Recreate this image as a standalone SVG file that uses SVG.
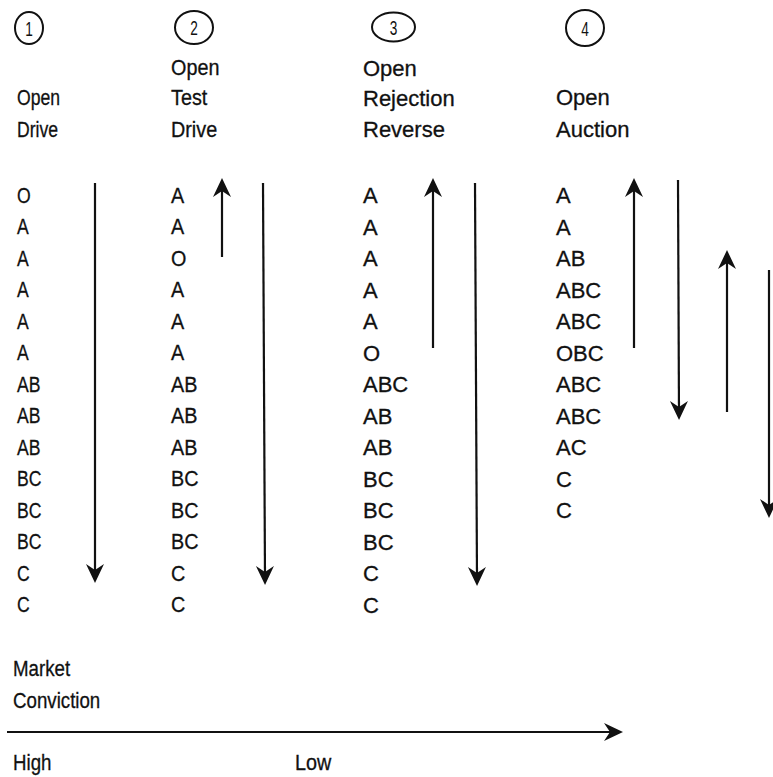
<svg xmlns="http://www.w3.org/2000/svg" width="773" height="777" viewBox="0 0 773 777">
  <style>
    .t { font-family: "Liberation Sans", Arial, sans-serif; font-size: 22px; fill: #111; stroke: #111; stroke-width: 0.3; }
    .num { font-family: "Liberation Sans", Arial, sans-serif; font-size: 21px; fill: #111; text-anchor: middle; }
    .ring { fill: none; stroke: #111; stroke-width: 2; }
    .arr { fill: none; stroke: #111; stroke-width: 2.2; marker-end: url(#head); }
  </style>
  <defs>
    <marker id="head" markerUnits="userSpaceOnUse" markerWidth="20" markerHeight="20" refX="-6" refY="0" orient="auto" overflow="visible">
      <path d="M -19,-9 L 0,0 L -19,9 L -13,0 Z" fill="#111"/>
    </marker>
  </defs>

  <!-- Column 1: Open Drive -->
  <g id="col1">
    <ellipse class="ring" cx="29" cy="28" rx="14" ry="16"/>
    <text class="num" transform="translate(29 36) scale(0.65 1)">1</text>
    <g transform="translate(17 0) scale(0.8 1)">
      <text class="t" x="0" y="105">Open</text>
      <text class="t" x="0" y="137">Drive</text>
      <text class="t">
        <tspan x="0" y="203">O</tspan>
        <tspan x="0" y="234.5">A</tspan>
        <tspan x="0" y="266">A</tspan>
        <tspan x="0" y="297.5">A</tspan>
        <tspan x="0" y="329">A</tspan>
        <tspan x="0" y="360.5">A</tspan>
        <tspan x="0" y="392">AB</tspan>
        <tspan x="0" y="423.5">AB</tspan>
        <tspan x="0" y="455">AB</tspan>
        <tspan x="0" y="486.5">BC</tspan>
        <tspan x="0" y="518">BC</tspan>
        <tspan x="0" y="549.5">BC</tspan>
        <tspan x="0" y="581">C</tspan>
        <tspan x="0" y="612.5">C</tspan>
      </text>
    </g>
  </g>

  <!-- Column 2: Open Test Drive -->
  <g id="col2">
    <ellipse class="ring" cx="194" cy="27.5" rx="19" ry="16.5"/>
    <text class="num" transform="translate(194 35) scale(0.65 1)">2</text>
    <g transform="translate(171 0) scale(0.9 1)">
      <text class="t" x="0" y="75">Open</text>
      <text class="t" x="0" y="105">Test</text>
      <text class="t" x="0" y="137">Drive</text>
      <text class="t">
        <tspan x="0" y="203">A</tspan>
        <tspan x="0" y="234.5">A</tspan>
        <tspan x="0" y="266">O</tspan>
        <tspan x="0" y="297.5">A</tspan>
        <tspan x="0" y="329">A</tspan>
        <tspan x="0" y="360.5">A</tspan>
        <tspan x="0" y="392">AB</tspan>
        <tspan x="0" y="423.5">AB</tspan>
        <tspan x="0" y="455">AB</tspan>
        <tspan x="0" y="486.5">BC</tspan>
        <tspan x="0" y="518">BC</tspan>
        <tspan x="0" y="549.5">BC</tspan>
        <tspan x="0" y="581">C</tspan>
        <tspan x="0" y="612.5">C</tspan>
      </text>
    </g>
  </g>

  <!-- Column 3: Open Rejection Reverse -->
  <g id="col3">
    <ellipse class="ring" cx="393.5" cy="27" rx="21.5" ry="14.5"/>
    <text class="num" transform="translate(393.5 34.5) scale(0.65 1)">3</text>
    <text class="t" x="363" y="76">Open</text>
    <text class="t" x="363" y="106">Rejection</text>
    <text class="t" x="363" y="137">Reverse</text>
    <text class="t">
      <tspan x="363" y="203">A</tspan>
      <tspan x="363" y="234.5">A</tspan>
      <tspan x="363" y="266">A</tspan>
      <tspan x="363" y="297.5">A</tspan>
      <tspan x="363" y="329">A</tspan>
      <tspan x="363" y="360.5">O</tspan>
      <tspan x="363" y="392">ABC</tspan>
      <tspan x="363" y="423.5">AB</tspan>
      <tspan x="363" y="455">AB</tspan>
      <tspan x="363" y="486.5">BC</tspan>
      <tspan x="363" y="518">BC</tspan>
      <tspan x="363" y="549.5">BC</tspan>
      <tspan x="363" y="581">C</tspan>
      <tspan x="363" y="612.5">C</tspan>
    </text>
  </g>

  <!-- Column 4: Open Auction -->
  <g id="col4">
    <ellipse class="ring" cx="585" cy="28" rx="19" ry="18"/>
    <text class="num" transform="translate(585 35.5) scale(0.65 1)">4</text>
    <text class="t" x="556" y="105">Open</text>
    <text class="t" x="556" y="137">Auction</text>
    <text class="t">
      <tspan x="556" y="203">A</tspan>
      <tspan x="556" y="234.5">A</tspan>
      <tspan x="556" y="266">AB</tspan>
      <tspan x="556" y="297.5">ABC</tspan>
      <tspan x="556" y="329">ABC</tspan>
      <tspan x="556" y="360.5">OBC</tspan>
      <tspan x="556" y="392">ABC</tspan>
      <tspan x="556" y="423.5">ABC</tspan>
      <tspan x="556" y="455">AC</tspan>
      <tspan x="556" y="486.5">C</tspan>
      <tspan x="556" y="518">C</tspan>
    </text>
  </g>

  <!-- Conviction scale -->
  <g id="scale">
    <g transform="translate(13 0) scale(0.85 1)">
      <text class="t" x="0" y="676">Market</text>
      <text class="t" x="0" y="708">Conviction</text>
      <text class="t" x="0" y="770">High</text>
    </g>
    <text class="t" transform="translate(295 770) scale(0.9 1)">Low</text>
  </g>

  <!-- Arrows -->
  <g id="connectors">
    <line class="arr" x1="95" y1="183" x2="95" y2="577"/>
    <line class="arr" x1="222" y1="257" x2="222" y2="184"/>
    <line class="arr" x1="263" y1="183" x2="265" y2="579"/>
    <line class="arr" x1="433" y1="348" x2="433" y2="184"/>
    <line class="arr" x1="475" y1="183" x2="477" y2="580"/>
    <line class="arr" x1="634" y1="348" x2="634" y2="184"/>
    <line class="arr" x1="678" y1="180" x2="679" y2="414"/>
    <line class="arr" x1="727" y1="412" x2="727" y2="256"/>
    <line class="arr" x1="769" y1="270" x2="769" y2="512"/>
    <line class="arr" x1="7" y1="732" x2="617" y2="732"/>
  </g>
</svg>
